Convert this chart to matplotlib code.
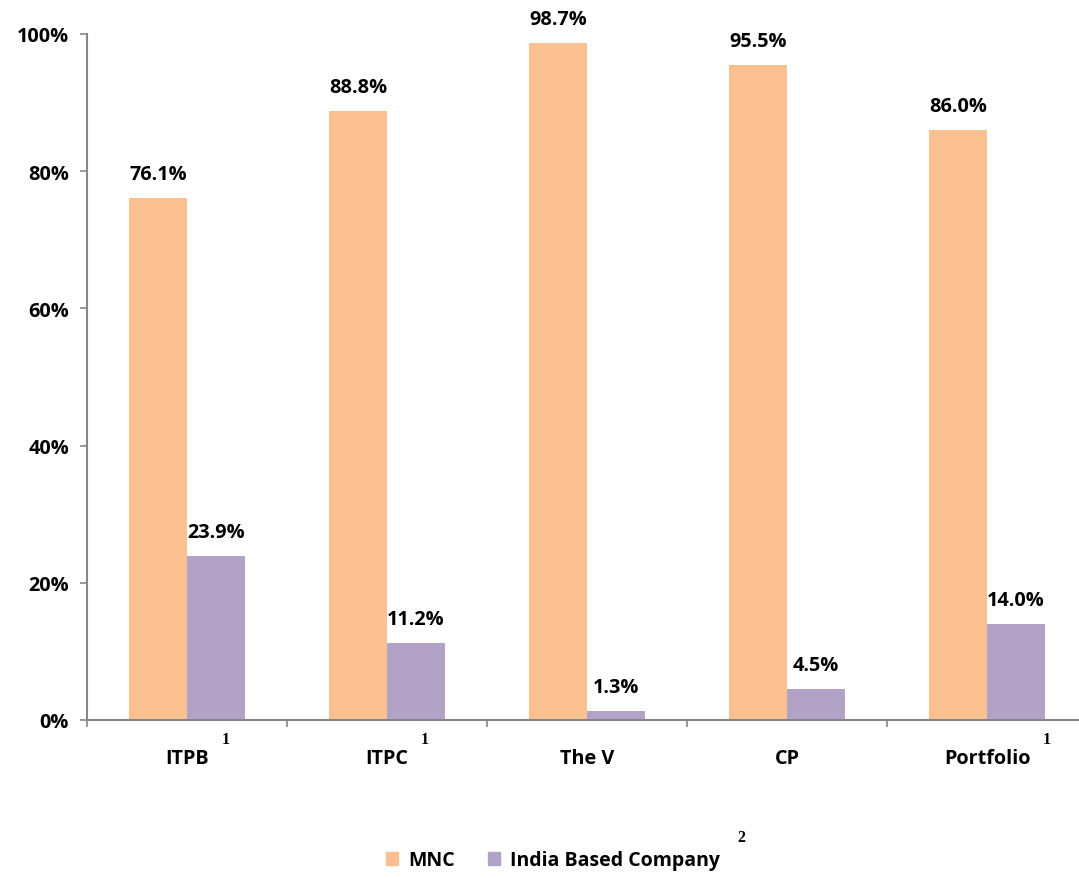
import matplotlib.pyplot as plt
import numpy as np
from matplotlib.patches import Patch

# Data
categories = ['ITPB', 'ITPC', 'The V', 'CP', 'Portfolio']
footnotes = ['1', '1', '', '', '1']
mnc = [76.1, 88.8, 98.7, 95.5, 86.0]
india = [23.9, 11.2, 1.3, 4.5, 14.0]
series_names = ['MNC', 'India Based Company']

c_mnc = '#FAC090'
c_ind = '#B3A2C7'
font = 'Open Sans'
fs = 14.3

fig = plt.figure(figsize=(10.79, 8.79), dpi=100)
ax = fig.add_axes([87 / 1079, 158 / 879, 1000 / 1079, 686 / 879])

x = np.arange(len(categories))
w = 0.29
ax.bar(x - w / 2, mnc, w, color=c_mnc)
ax.bar(x + w / 2, india, w, color=c_ind)

# value labels
for xi, v in zip(x, mnc):
    ax.text(xi - w / 2, v + 2.0, f'{v:.1f}%', ha='center', va='bottom',
            fontsize=fs, fontweight='bold', family=font)
for xi, v in zip(x, india):
    ax.text(xi + w / 2, v + 2.0, f'{v:.1f}%', ha='center', va='bottom',
            fontsize=fs, fontweight='bold', family=font)

ax.set_xlim(-0.5, len(categories) - 0.5)
ax.set_ylim(0, 100)
ax.set_yticks(np.arange(0, 101, 20))
ax.set_yticklabels([f'{t}%' for t in range(0, 101, 20)], fontsize=fs,
                   fontweight='bold', family=font)
ax.set_xticks(np.arange(len(categories) + 1) - 0.5)
ax.set_xticklabels([])
ax.tick_params(axis='both', direction='out', length=5, color='#868686', width=1.2)
ax.tick_params(axis='y', pad=8)

for s in ['top', 'right']:
    ax.spines[s].set_visible(False)
for s in ['left', 'bottom']:
    ax.spines[s].set_color('#868686')
    ax.spines[s].set_linewidth(1.5)

# category labels with footnote marks
for xi, name, fn in zip(x, categories, footnotes):
    t = ax.text(xi, -5.6, name, ha='center', va='center', fontsize=fs,
                fontweight='bold', family=font)
    if fn:
        ax.annotate(fn, xy=(1, 1), xycoords=t, xytext=(12, 7),
                    textcoords='offset points', ha='center', va='center',
                    fontsize=11.5, fontweight='bold', family='Liberation Serif')

handles = [Patch(color=c_mnc), Patch(color=c_ind)]
leg = fig.legend(handles, series_names, loc='center', bbox_to_anchor=(0.5125, 0.02),
                 ncol=2, frameon=False, handlelength=0.65, handleheight=0.65,
                 columnspacing=1.7, handletextpad=0.5,
                 prop={'family': font, 'weight': 'bold', 'size': 14})
fig.text(741 / 1079, 1 - 838 / 879, '2', ha='center', va='center', fontsize=11.5,
         fontweight='bold', family='Liberation Serif')

plt.savefig('out.png', dpi=100)
